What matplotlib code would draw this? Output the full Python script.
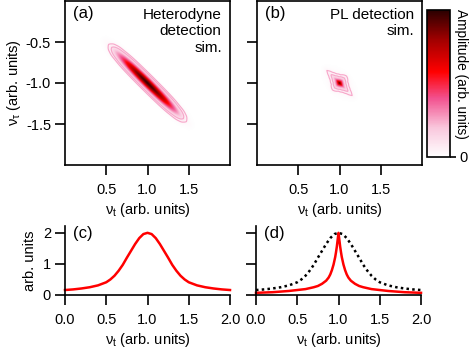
import numpy as np
import matplotlib
matplotlib.use("Agg")
import matplotlib.pyplot as plt
from matplotlib.colors import LinearSegmentedColormap

plt.rcParams["font.family"] = ["Liberation Sans", "DejaVu Sans"]
plt.rcParams["mathtext.fontset"] = "custom"
plt.rcParams["mathtext.rm"] = "Liberation Sans"
plt.rcParams["mathtext.it"] = "Liberation Sans:italic"
plt.rcParams["font.size"] = 10.5
plt.rcParams["axes.linewidth"] = 1.2

# ---- 1D line cuts (c), (d) ----
cut_x = [0.0, 0.1, 0.2, 0.3, 0.4, 0.5, 0.55, 0.6, 0.65, 0.7, 0.75, 0.8, 0.85, 0.9, 0.95,
         1.0, 1.05, 1.1, 1.15, 1.2, 1.25, 1.3, 1.35, 1.4, 1.45, 1.5, 1.6, 1.7, 1.8, 1.9, 2.0]
het_cut = [0.16, 0.18, 0.21, 0.25, 0.31, 0.41, 0.50, 0.62, 0.78, 0.97, 1.20, 1.42, 1.64, 1.83, 1.96,
           2.0, 1.96, 1.83, 1.64, 1.42, 1.20, 0.97, 0.78, 0.62, 0.50, 0.41, 0.31, 0.25, 0.21, 0.18, 0.16]

pl_x = [0.0, 0.1, 0.2, 0.3, 0.4, 0.5, 0.6, 0.65, 0.7, 0.75, 0.8, 0.85, 0.88, 0.9, 0.92, 0.94,
        0.96, 0.97, 0.98, 0.99, 1.0, 1.01, 1.02, 1.03, 1.04, 1.06, 1.08, 1.1, 1.12, 1.15, 1.2,
        1.25, 1.3, 1.35, 1.4, 1.5, 1.6, 1.7, 1.8, 1.9, 2.0]
pl_cut = [0.07, 0.08, 0.09, 0.11, 0.13, 0.16, 0.19, 0.22, 0.25, 0.29, 0.36, 0.46, 0.56, 0.66, 0.80, 0.98,
          1.22, 1.38, 1.56, 1.78, 2.0, 1.78, 1.56, 1.38, 1.22, 0.98, 0.80, 0.66, 0.56, 0.46, 0.36,
          0.29, 0.25, 0.22, 0.19, 0.16, 0.13, 0.11, 0.09, 0.08, 0.07]

# ---- 2D map profiles: along the anti-diagonal (s) and across it (p) ----
het_s = [0.0, 0.1, 0.2, 0.3, 0.4, 0.5, 0.6, 0.65, 0.7, 0.8]
het_s_amp = [1.0, 0.95, 0.85, 0.7, 0.5, 0.3, 0.12, 0.05, 0.02, 0.0]
het_p = [0.0, 0.02, 0.04, 0.06, 0.08, 0.1, 0.12]
het_p_amp = [1.0, 0.85, 0.55, 0.28, 0.11, 0.03, 0.0]

pl_s = [0.0, 0.02, 0.04, 0.06, 0.1, 0.15, 0.2, 0.25, 0.3]
pl_s_amp = [1.0, 0.78, 0.55, 0.36, 0.18, 0.09, 0.05, 0.02, 0.0]
pl_p = [0.0, 0.015, 0.03, 0.05, 0.08, 0.12, 0.16]
pl_p_amp = [1.0, 0.72, 0.48, 0.26, 0.11, 0.04, 0.0]

cmap = LinearSegmentedColormap.from_list(
    "amp",
    [(0.0, "#ffffff"), (0.2, "#f9c6dc"), (0.4, "#f2508e"), (0.58, "#ff0000"),
     (0.8, "#a00000"), (1.0, "#2a0000")],
)

grid = np.linspace(0, 2, 400)
X, Y = np.meshgrid(grid, -grid[::-1])
S = np.abs(((X - 1) - (Y + 1)) / np.sqrt(2))
P = np.abs(((X - 1) + (Y + 1)) / np.sqrt(2))


def build_map(s_pos, s_amp, p_pos, p_amp):
    return np.interp(S, s_pos, s_amp) * np.interp(P, p_pos, p_amp)


het_map = build_map(het_s, het_s_amp, het_p, het_p_amp)
pl_map = build_map(pl_s, pl_s_amp, pl_p, pl_p_amp)

fig = plt.figure(figsize=(4.71, 3.57), dpi=100)
W, H = 471, 357


def px_axes(left, right, top, bottom):
    return fig.add_axes([left / W, 1 - bottom / H, (right - left) / W, (bottom - top) / H])


ax_a = px_axes(65, 230, 1, 165)
ax_b = px_axes(257, 422, 1, 165)
cax = px_axes(427, 450, 10, 157)
ax_c = px_axes(65, 230, 226, 295)
ax_d = px_axes(256, 421, 226, 295)

tick_kw = dict(direction="out", length=7, width=1.2, pad=3)
xlab = r"$\mathrm{\nu_t}$ (arb. units)"

for ax, data, label in [(ax_a, het_map, "(a)"), (ax_b, pl_map, "(b)")]:
    im = ax.imshow(data, extent=[0, 2, -2, 0], origin="lower", cmap=cmap,
                   vmin=0, vmax=1, aspect="auto", interpolation="bilinear")
    ax.contour(X, Y, data, levels=[0.04, 0.1], colors="#f7a6c9", linewidths=0.8)
    ax.set_xlim(0, 2)
    ax.set_ylim(-2, 0)
    ax.set_xticks([0.5, 1.0, 1.5])
    ax.set_xticklabels(["0.5", "1.0", "1.5"])
    ax.set_yticks([-0.5, -1.0, -1.5])
    ax.tick_params(**tick_kw)
    ax.tick_params(axis="x", pad=6)
    ax.set_xlabel(xlab, labelpad=3)
    ax.text(0.05, 0.97, label, transform=ax.transAxes, ha="left", va="top", fontsize=12)

ax_a.set_yticklabels(["-0.5", "-1.0", "-1.5"])
ax_a.set_ylabel(r"$\mathrm{\nu_\tau}$ (arb. units)", labelpad=2)
ax_b.set_yticklabels([])
ax_a.text(0.95, 0.96, "Heterodyne\ndetection\nsim.", transform=ax_a.transAxes,
          ha="right", va="top", fontsize=11, linespacing=1.25)
ax_b.text(0.95, 0.96, "PL detection\nsim.", transform=ax_b.transAxes,
          ha="right", va="top", fontsize=11, linespacing=1.25)

cb = fig.colorbar(im, cax=cax, ticks=[0])
cb.outline.set_linewidth(1.2)
cb.ax.tick_params(direction="out", length=4, width=1.2, pad=3)
cax.text(1.48, 0.565, "Amplitude (arb. units)", transform=cax.transAxes,
         rotation=-90, ha="center", va="center", fontsize=9.8)

for ax, label in [(ax_c, "(c)"), (ax_d, "(d)")]:
    ax.spines["top"].set_visible(False)
    ax.spines["right"].set_visible(False)
    ax.set_xlim(0, 2)
    ax.set_ylim(0, 2.22)
    ax.set_xticks([0.0, 0.5, 1.0, 1.5, 2.0])
    ax.set_xticklabels(["0.0", "0.5", "1.0", "1.5", "2.0"])
    ax.set_yticks([0, 1, 2])
    ax.tick_params(**tick_kw)
    ax.tick_params(axis="x", pad=6)
    ax.set_xlabel(xlab, labelpad=3)
    ax.text(0.05, 1.0, label, transform=ax.transAxes, ha="left", va="top", fontsize=12)

ax_c.plot(cut_x, het_cut, color="#ff0000", lw=1.8, clip_on=False)
ax_c.set_ylabel("arb. units", labelpad=4)

ax_d.plot(cut_x, het_cut, color="black", lw=1.8, ls=(0, (1, 1.3)), clip_on=False)
ax_d.plot(pl_x, pl_cut, color="#ff0000", lw=1.8, clip_on=False)
ax_d.set_yticklabels([])

fig.savefig("out.png", dpi=100)
